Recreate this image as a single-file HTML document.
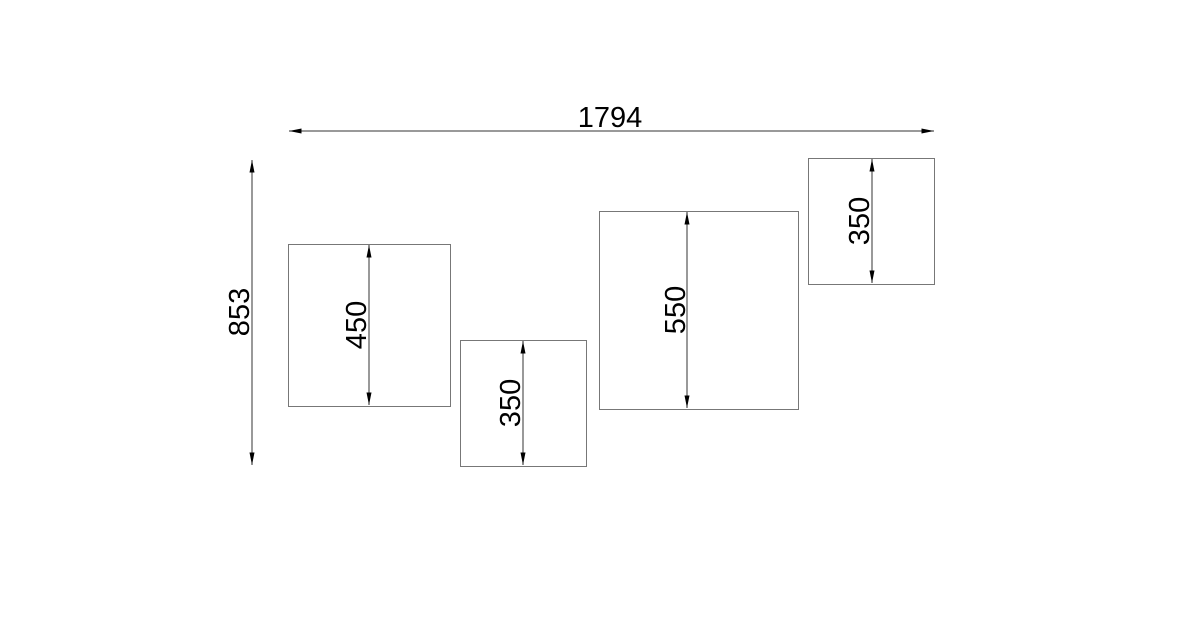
<!DOCTYPE html>
<html><head><style>html,body{margin:0;padding:0;background:#fff;}</style></head>
<body>
<svg width="1200" height="630" viewBox="0 0 1200 630" xmlns="http://www.w3.org/2000/svg" font-family="Liberation Sans, sans-serif" font-size="29" fill="#000">
<defs>
<marker id="a" viewBox="0 0 10 4" refX="10" refY="2" markerWidth="14" markerHeight="5" markerUnits="userSpaceOnUse" orient="auto-start-reverse"><path d="M0,0 L10,2 L0,4z" fill="#000"/></marker>
</defs>
<g fill="none" stroke="#777" stroke-width="1">
<rect x="288.5" y="244.5" width="162" height="162"/>
<rect x="460.5" y="340.5" width="126" height="126"/>
<rect x="599.5" y="211.5" width="199" height="198"/>
<rect x="808.5" y="158.5" width="126" height="126"/>
</g>
<g stroke="#333" stroke-width="1" marker-start="url(#a)" marker-end="url(#a)">
<line x1="289" y1="131" x2="934" y2="131"/>
<line x1="252" y1="160" x2="252" y2="465"/>
<line x1="369" y1="245" x2="369" y2="405"/>
<line x1="523" y1="341" x2="523" y2="465"/>
<line x1="687" y1="212" x2="687" y2="408"/>
<line x1="872" y1="159" x2="872" y2="283"/>
</g>
<text x="610" y="127" text-anchor="middle">1794</text>
<text transform="translate(249,312) rotate(-90)" text-anchor="middle">853</text>
<text transform="translate(366,325) rotate(-90)" text-anchor="middle">450</text>
<text transform="translate(520,403) rotate(-90)" text-anchor="middle">350</text>
<text transform="translate(685,310) rotate(-90)" text-anchor="middle">550</text>
<text transform="translate(869,221) rotate(-90)" text-anchor="middle">350</text>
</svg>
</body></html>
